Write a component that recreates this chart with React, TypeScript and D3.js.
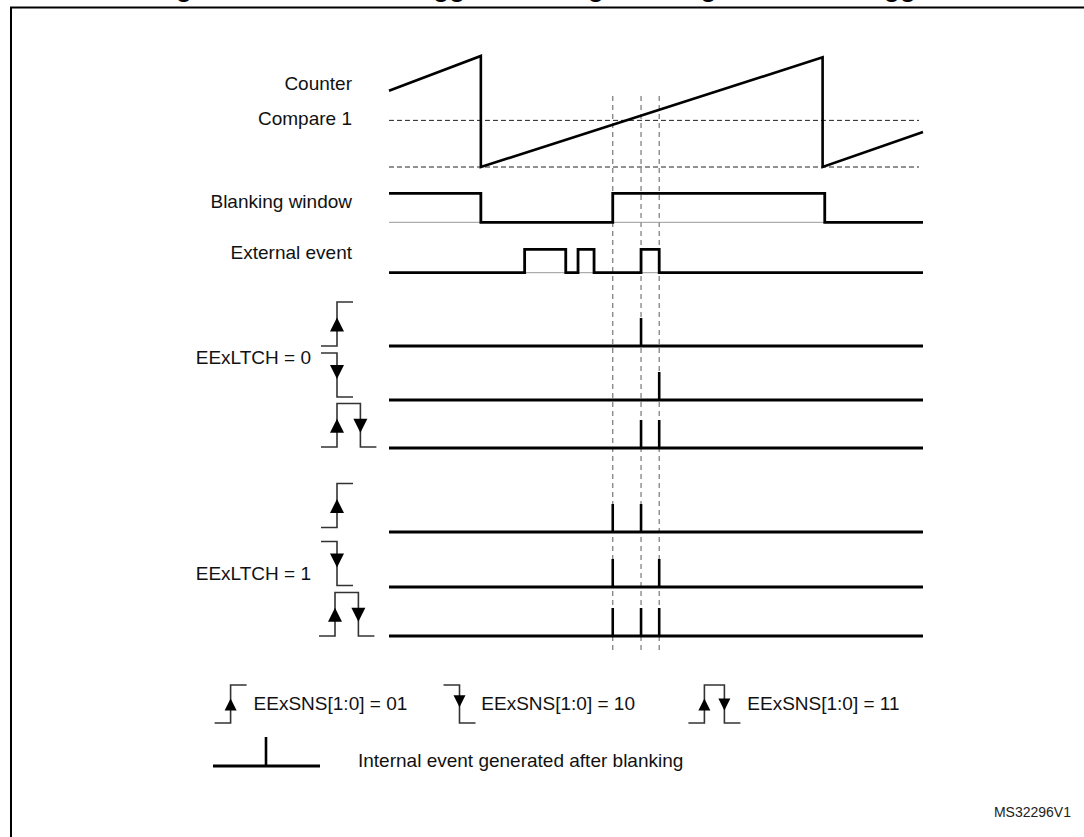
import React from "react";
import * as d3 from "d3";

// ---------- data ----------
const titleText = "Figure 186. External trigger blanking with edge-sensitive trigger";
const figureId = "MS32296V1";
const signalLabels = ["Counter", "Compare 1", "Blanking window", "External event"];
const groupLabels = ["EExLTCH = 0", "EExLTCH = 1"];
const legendLabels = ["EExSNS[1:0] = 01", "EExSNS[1:0] = 10", "EExSNS[1:0] = 11"];
const internalLabel = "Internal event generated after blanking";

const counterPoints = [
  { t: 0, v: 68.7 },
  { t: 17.2, v: 100 },
  { t: 17.2, v: 0 },
  { t: 81.2, v: 98.8 },
  { t: 81.2, v: 0 },
  { t: 100, v: 31.5 },
];
const compareValue = 42;
const counterZero = 0;
const blankingLevels = [
  { t: 0, v: 1 },
  { t: 17.2, v: 0 },
  { t: 41.9, v: 1 },
  { t: 81.6, v: 0 },
  { t: 100, v: 0 },
];
const externalEventLevels = [
  { t: 0, v: 0 },
  { t: 25.4, v: 1 },
  { t: 33.1, v: 0 },
  { t: 35.4, v: 1 },
  { t: 38.4, v: 0 },
  { t: 47.2, v: 1 },
  { t: 50.6, v: 0 },
  { t: 100, v: 0 },
];
const markerTimes = [41.9, 47.2, 50.6];
const edgeModes = ["rising", "falling", "both"];
const latch0Pulses = [[47.2], [50.6], [47.2, 50.6]];
const latch1Pulses = [[41.9, 47.2], [41.9, 50.6], [41.9, 47.2, 50.6]];

// ---------- layout ----------
const FONT = "'Liberation Sans', Arial, Helvetica, sans-serif";
const x = d3.scaleLinear().domain([0, 100]).range([389, 923]);
const yCounter = d3.scaleLinear().domain([0, 100]).range([167, 56]);
const yBlank = d3.scaleLinear().domain([0, 1]).range([222.3, 193.3]);
const yExt = d3.scaleLinear().domain([0, 1]).range([272.7, 249.3]);
const labelYs = [90, 125, 208.3, 259.3];
const groupLabelYs = [364, 580];
const rowBaselines = [
  [346, 400, 448],
  [532, 587, 636],
];
const iconBottoms = [
  [346, 397, 447],
  [527.5, 585.5, 636],
];
const pulseHeight = 28;
const legendTextY = 710;
const legendIconBottom = 723;

function arrow(cx: number, baseY: number, tipY: number, hw: number) {
  return `M${cx - hw},${baseY} L${cx + hw},${baseY} L${cx},${tipY} Z`;
}

function EdgeIcon({ mode, x0, bottom, h, gap, arrowH, arrowHW }: any) {
  const stroke = "#333";
  const sw = 1.6;
  const vx = x0 + 16;
  if (mode === "rising") {
    return (
      <g>
        <path d={`M${x0},${bottom} H${vx} V${bottom - h} H${vx + 16}`} fill="none" stroke={stroke} strokeWidth={sw} />
        <path d={arrow(vx, bottom - h * 0.33, bottom - h * 0.33 - arrowH, arrowHW)} fill="#000" />
      </g>
    );
  }
  if (mode === "falling") {
    const top = bottom - h;
    return (
      <g>
        <path d={`M${x0},${top} H${vx} V${bottom} H${vx + 16}`} fill="none" stroke={stroke} strokeWidth={sw} />
        <path d={arrow(vx, top + h * 0.27, top + h * 0.27 + arrowH, arrowHW)} fill="#000" />
      </g>
    );
  }
  const vx2 = vx + gap;
  return (
    <g>
      <path
        d={`M${x0},${bottom} H${vx} V${bottom - h} H${vx2} V${bottom} H${vx2 + 16}`}
        fill="none"
        stroke={stroke}
        strokeWidth={sw}
      />
      <path d={arrow(vx, bottom - h * 0.33, bottom - h * 0.33 - arrowH, arrowHW)} fill="#000" />
      <path d={arrow(vx2, bottom - h * 0.33 - arrowH, bottom - h * 0.33, arrowHW)} fill="#000" />
    </g>
  );
}

export default function App() {
  const counterLine = d3
    .line<{ t: number; v: number }>()
    .x((d) => x(d.t))
    .y((d) => yCounter(d.v));
  const blankLine = d3
    .line<{ t: number; v: number }>()
    .x((d) => x(d.t))
    .y((d) => yBlank(d.v))
    .curve(d3.curveStepAfter);
  const extLine = d3
    .line<{ t: number; v: number }>()
    .x((d) => x(d.t))
    .y((d) => yExt(d.v))
    .curve(d3.curveStepAfter);
  const [t0, t1] = x.domain();
  const textStyle: any = { fontFamily: FONT, fontSize: 19, fill: "#111" };

  const groups = [latch0Pulses, latch1Pulses];

  return (
    <svg
      width={1084}
      height={837}
      style={{ position: "absolute", left: 0, top: 0, background: "#fff" }}
    >
      <rect x={0} y={0} width={1084} height={837} fill="#fff" />
      <text x={153} y={-3.5} style={{ fontFamily: FONT, fontSize: 26, fontWeight: "bold", fill: "#000" }}>
        {titleText}
      </text>
      <rect x={11} y={7.5} width={1200} height={900} fill="none" stroke="#000" strokeWidth={2} />

      {/* signal labels */}
      {signalLabels.map((s, i) => (
        <text key={s} x={352} y={labelYs[i]} textAnchor="end" style={textStyle}>
          {s}
        </text>
      ))}

      {/* counter reference dashed lines */}
      {[compareValue, counterZero].map((v, i) => (
        <line
          key={i}
          x1={x(t0)}
          x2={x(t1) - 4}
          y1={yCounter(v)}
          y2={yCounter(v)}
          stroke="#222"
          strokeWidth={1}
          strokeDasharray="5,3"
        />
      ))}

      {/* vertical markers */}
      {markerTimes.map((t) => (
        <line
          key={t}
          x1={x(t)}
          x2={x(t)}
          y1={96}
          y2={650}
          stroke="#777"
          strokeWidth={1.2}
          strokeDasharray="5,4"
        />
      ))}

      {/* counter */}
      <path d={counterLine(counterPoints) || ""} fill="none" stroke="#000" strokeWidth={2.6} strokeLinejoin="miter" />

      {/* blanking window */}
      <line x1={x(t0)} x2={x(t1)} y1={yBlank(0)} y2={yBlank(0)} stroke="#999" strokeWidth={1} />
      <path d={blankLine(blankingLevels) || ""} fill="none" stroke="#000" strokeWidth={2.8} />

      {/* external event */}
      <line x1={x(t0)} x2={x(t1)} y1={yExt(0)} y2={yExt(0)} stroke="#999" strokeWidth={1} />
      <path d={extLine(externalEventLevels) || ""} fill="none" stroke="#000" strokeWidth={2.8} />

      {/* latch groups */}
      {groups.map((rows, gi) => (
        <g key={gi}>
          <text x={311} y={groupLabelYs[gi]} textAnchor="end" style={textStyle}>
            {groupLabels[gi]}
          </text>
          {rows.map((pulses, ri) => {
            const base = rowBaselines[gi][ri];
            return (
              <g key={ri}>
                <EdgeIcon
                  mode={edgeModes[ri]}
                  x0={gi === 1 && ri === 2 ? 319 : 321}
                  bottom={iconBottoms[gi][ri]}
                  h={ri === 2 ? 43.5 : 44}
                  gap={23.4}
                  arrowH={14}
                  arrowHW={7}
                />
                <line x1={x(t0)} x2={x(t1)} y1={base} y2={base} stroke="#000" strokeWidth={2.8} />
                {pulses.map((t) => (
                  <line
                    key={t}
                    x1={x(t)}
                    x2={x(t)}
                    y1={base}
                    y2={base - pulseHeight}
                    stroke="#000"
                    strokeWidth={2.6}
                  />
                ))}
              </g>
            );
          })}
        </g>
      ))}

      {/* legend */}
      <EdgeIcon mode="rising" x0={214.6} bottom={legendIconBottom} h={38} gap={20} arrowH={12} arrowHW={6} />
      <text x={253.6} y={legendTextY} style={textStyle}>
        {legendLabels[0]}
      </text>
      <EdgeIcon mode="falling" x0={443.5} bottom={legendIconBottom} h={38} gap={20} arrowH={12} arrowHW={6} />
      <text x={481.3} y={legendTextY} style={textStyle}>
        {legendLabels[1]}
      </text>
      <EdgeIcon mode="both" x0={688.4} bottom={legendIconBottom} h={38} gap={20} arrowH={12} arrowHW={6} />
      <text x={747.3} y={legendTextY} style={textStyle}>
        {legendLabels[2]}
      </text>

      <line x1={213} x2={320} y1={766} y2={766} stroke="#000" strokeWidth={2.8} />
      <line x1={266} x2={266} y1={766} y2={737} stroke="#000" strokeWidth={2.6} />
      <text x={358} y={767.3} style={textStyle}>
        {internalLabel}
      </text>

      <text x={1071} y={817} textAnchor="end" style={{ fontFamily: FONT, fontSize: 14, fill: "#222" }}>
        {figureId}
      </text>
    </svg>
  );
}
